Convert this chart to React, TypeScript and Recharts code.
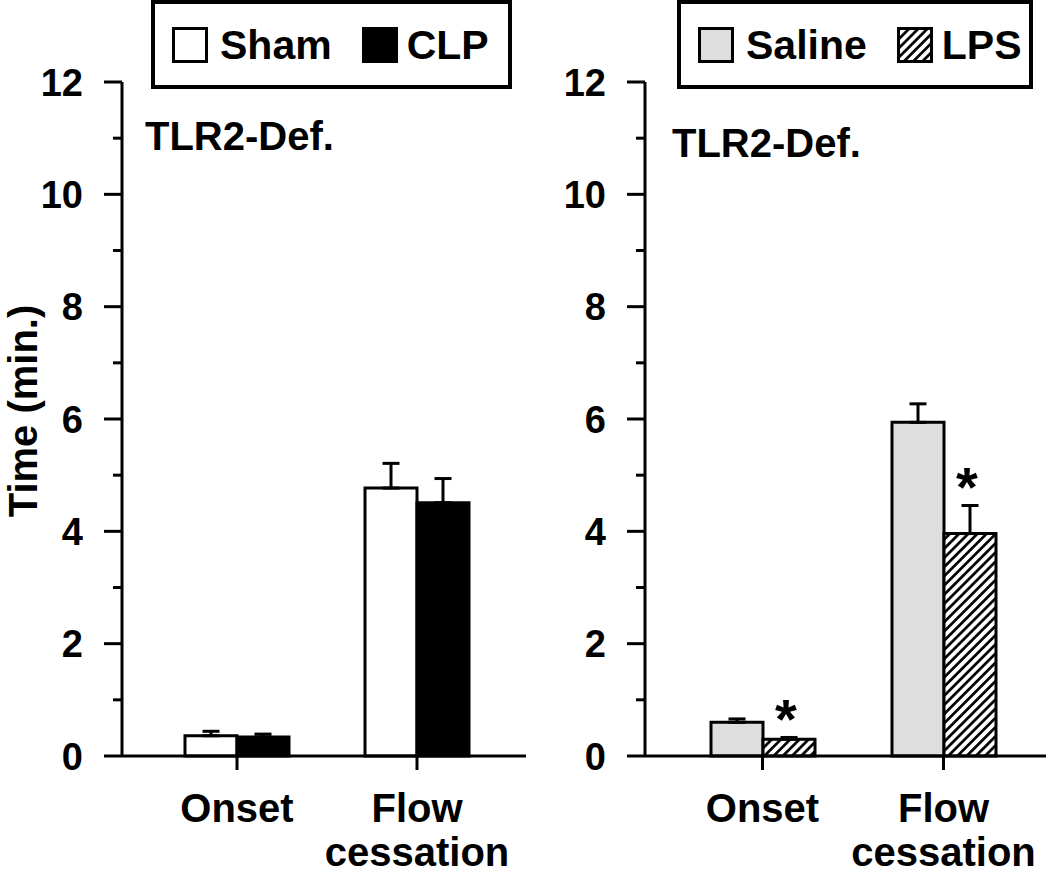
import React from "react";
import { BarChart, Bar, XAxis, YAxis, ErrorBar, LabelList, Legend } from "recharts";

const categories = ["Onset", "Flow cessation"];

// left panel
const leftSeries = ["Sham", "CLP"];
const sham = [0.36, 4.77];
const shamErr = [0.08, 0.44];
const clp = [0.34, 4.51];
const clpErr = [0.05, 0.43];

// right panel
const rightSeries = ["Saline", "LPS"];
const saline = [0.6, 5.94];
const salineErr = [0.06, 0.33];
const lps = [0.3, 3.96];
const lpsErr = [0.03, 0.5];
const lpsStars = ["*", "*"];

const yTicks = [0, 1, 2, 3, 4, 5, 6, 7, 8, 9, 10, 11, 12];
const panelTitle = "TLR2-Def.";
const yTitle = "Time (min.)";

const FONT = "'Liberation Sans', Arial, Helvetica, sans-serif";
const TICK_SIZE = 18;
const TICK_MARGIN = 21;

function YTick(props: any) {
  const { x, y, payload } = props;
  const axisX = x + TICK_MARGIN + TICK_SIZE;
  const major = payload.value % 2 === 0;
  return (
    <g>
      <line x1={axisX - (major ? TICK_SIZE : TICK_SIZE / 2)} x2={axisX} y1={y} y2={y} stroke="#000" strokeWidth={3} />
      {major && (
        <text x={x} y={y} dy="0.36em" textAnchor="end" fontSize={38} fontWeight="bold" fontFamily={FONT} fill="#000">
          {payload.value}
        </text>
      )}
    </g>
  );
}

function XTick(props: any) {
  const { x, y, payload } = props;
  const words = String(payload.value).split(" ");
  return (
    <text x={x} y={y} textAnchor="middle" fontSize={40} fontWeight="bold" fontFamily={FONT} fill="#000">
      {words.map((w, i) => (
        <tspan key={i} x={x} dy={i === 0 ? "0.71em" : 44}>{w}</tspan>
      ))}
    </text>
  );
}

function YTitle(props: any) {
  const vb = props.viewBox;
  if (!vb) return null;
  return (
    <text
      transform={`translate(${vb.x + 37}, ${vb.y + vb.height / 2 - 8}) rotate(-90)`}
      textAnchor="middle" fontSize={40} fontWeight="bold" fontFamily={FONT} fill="#000"
    >
      {yTitle}
    </text>
  );
}

function LegendBox(props: any) {
  const order: string[] = props.order ?? [];
  const items = [...(props.payload ?? [])].sort(
    (a: any, b: any) => order.indexOf(a.value) - order.indexOf(b.value)
  );
  return (
    <div style={{
      boxSizing: "border-box", width: "100%", height: 89, border: "4px solid #000", background: "#fff",
      display: "flex", alignItems: "center", paddingLeft: 17, fontFamily: FONT, fontWeight: "bold",
      fontSize: 41, lineHeight: "40px", color: "#000",
    }}>
      {items.map((p: any, i: number) => (
        <div key={i} style={{ display: "flex", alignItems: "center", marginLeft: i ? 30 : 0 }}>
          <svg width={36} height={36} style={{ marginRight: i ? 9 : 12, display: "block" }}>
            <rect x={1.5} y={1.5} width={33} height={33} fill={p.color} stroke="#000" strokeWidth={3} />
          </svg>
          <span>{p.value}</span>
        </div>
      ))}
    </div>
  );
}

function starLabel(props: any) {
  const { index } = props;
  const vb = props.viewBox ?? props;
  const mark = lpsStars[index];
  if (!mark || !vb) return null;
  const { x, y, width, height } = vb;
  const unit = Math.abs(height) / lps[index];
  const errTop = Math.min(y, y + height) - lpsErr[index] * unit;
  return (
    <text key={index} x={x + width / 2 - 3} y={errTop + 1} textAnchor="middle" fontSize={56} fontWeight="bold" fontFamily={FONT} fill="#000">
      {mark}
    </text>
  );
}

function PanelTitle({ left, top }: { left: number; top: number }) {
  return (
    <div style={{ position: "absolute", left, top, fontFamily: FONT, fontWeight: "bold", fontSize: 40, lineHeight: "40px", color: "#000", whiteSpace: "nowrap" }}>
      {panelTitle}
    </div>
  );
}

const axisLine = { stroke: "#000", strokeWidth: 3 };

export default function App() {
  const leftRows = categories.map((c, i) => ({
    name: c, sham: sham[i], shamErr: [0, shamErr[i]], clp: clp[i], clpErr: [0, clpErr[i]],
  }));
  const rightRows = categories.map((c, i) => ({
    name: c, saline: saline[i], salineErr: [0, salineErr[i]], lps: lps[i], lpsErr: [0, lpsErr[i]],
  }));

  return (
    <div style={{ position: "absolute", left: 0, top: 0, width: 1050, height: 875, background: "#fff", overflow: "hidden" }}>
      <div style={{ position: "absolute", left: 0, top: 0 }}>
        <BarChart width={530} height={875} data={leftRows} margin={{ top: 82, right: 4, bottom: 0, left: 0 }} barGap={0} barSize={52}>
          <XAxis dataKey="name" height={119} padding={{ left: 25, right: 19 }} axisLine={axisLine}
            tickLine={axisLine} tickSize={14} tickMargin={24} tick={<XTick />} interval={0} />
          <YAxis width={122} domain={[0, 12]} ticks={yTicks} interval={0} axisLine={axisLine} tickLine={false}
            tickSize={TICK_SIZE} tickMargin={TICK_MARGIN} tick={<YTick />} label={<YTitle />} />
          <Legend layout="horizontal" verticalAlign="middle" align="center" content={<LegendBox order={leftSeries} />}
            wrapperStyle={{ left: 151, top: 0, width: 361, height: 89 }} />
          <Bar dataKey="sham" name={leftSeries[0]} fill="#fff" stroke="#000" strokeWidth={3} isAnimationActive={false}>
            <ErrorBar dataKey="shamErr" width={8.5} stroke="#000" strokeWidth={3} />
          </Bar>
          <Bar dataKey="clp" name={leftSeries[1]} fill="#000" stroke="#000" strokeWidth={3} isAnimationActive={false}>
            <ErrorBar dataKey="clpErr" width={8.5} stroke="#000" strokeWidth={3} />
          </Bar>
        </BarChart>
        <PanelTitle left={145} top={116} />
      </div>

      <div style={{ position: "absolute", left: 523, top: 0 }}>
        <BarChart width={527} height={875} data={rightRows} margin={{ top: 82, right: 4, bottom: 0, left: 0 }} barGap={0} barSize={52}>
          <defs>
            <pattern id="lpsHatch" patternUnits="userSpaceOnUse" width={6.5} height={6.5} patternTransform="rotate(45)">
              <rect width={6.5} height={6.5} fill="#fff" />
              <line x1={3.25} y1={0} x2={3.25} y2={6.5} stroke="#000" strokeWidth={2.7} />
            </pattern>
          </defs>
          <XAxis dataKey="name" height={119} padding={{ left: 27, right: 12 }} axisLine={axisLine}
            tickLine={axisLine} tickSize={14} tickMargin={24} tick={<XTick />} interval={0} />
          <YAxis width={122} domain={[0, 12]} ticks={yTicks} interval={0} axisLine={axisLine} tickLine={false}
            tickSize={TICK_SIZE} tickMargin={TICK_MARGIN} tick={<YTick />} />
          <Legend layout="horizontal" verticalAlign="middle" align="center" content={<LegendBox order={rightSeries} />}
            wrapperStyle={{ left: 154, top: 0, width: 356, height: 89 }} />
          <Bar dataKey="saline" name={rightSeries[0]} fill="#dedede" stroke="#000" strokeWidth={3} isAnimationActive={false}>
            <ErrorBar dataKey="salineErr" width={8.5} stroke="#000" strokeWidth={3} />
          </Bar>
          <Bar dataKey="lps" name={rightSeries[1]} fill="url(#lpsHatch)" stroke="#000" strokeWidth={3} isAnimationActive={false}>
            <ErrorBar dataKey="lpsErr" width={8.5} stroke="#000" strokeWidth={3} />
            <LabelList dataKey="lps" content={starLabel} />
          </Bar>
        </BarChart>
        <PanelTitle left={149} top={123} />
      </div>
    </div>
  );
}
